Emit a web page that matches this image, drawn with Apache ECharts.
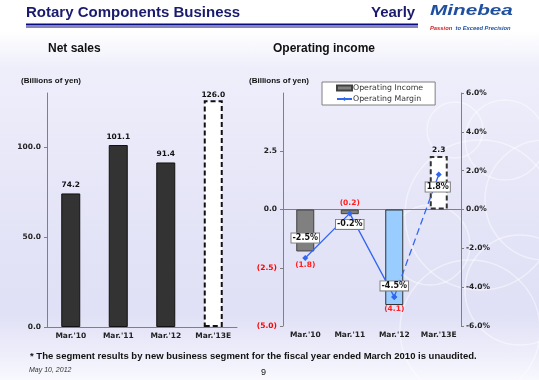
<!DOCTYPE html>
<html><head><meta charset="utf-8">
<script src="https://cdn.jsdelivr.net/npm/echarts@6/dist/echarts.min.js"></script>
<style>
html,body{margin:0;padding:0;}
body{width:539px;height:380px;background:linear-gradient(180deg,#ffffff 0%,#ffffff 8%,#eeeefb 18%,#e6e6f8 50%,#e0e0f6 82%,#ececfa 92%,#f8f8fe 100%);}
#c{width:539px;height:380px;}
</style></head>
<body><div id="c"></div>
<script>
const categories = ["Mar.'10", "Mar.'11", "Mar.'12", "Mar.'13E"];
const netSales = [74.2, 101.1, 91.4, 126.0];
const opIncome = [-1.8, -0.2, -4.1, 2.3];
const opMargin = [-2.5, -0.2, -4.5, 1.8];
const salesTicks = {min: 0, max: 130, interval: 50};
const incomeTicks = {min: -5, max: 5, interval: 2.5};
const marginTicks = {min: -6, max: 6, interval: 2};

const AX = 'DejaVu Sans';
const axisLabelStyle = {fontFamily: AX, fontWeight: 'bold', fontSize: 7.5, color: '#222'};
const gridLine = {lineStyle: {color: '#808080', width: 1}};

const chart = echarts.init(document.getElementById('c'), null, {renderer: 'canvas'});

const incomeLabelPos = [
  {position: 'bottom', distance: 10},
  {position: 'top', distance: 2},
  {position: 'bottom', distance: 0},
  {position: 'top', distance: 2}
];
const marginLabelOffset = [[0, -20], [0, 11], [0, -11], [-1, 12.5]];
const salesLabelDist = [4, 4, 4, 1];

const salesData = netSales.map((v, i) => {
  const o = {value: v, label: {distance: salesLabelDist[i]}};
  if (i === 3) o.itemStyle = {color: '#ffffff', borderColor: '#111', borderWidth: 2, borderType: [5, 3]};
  return o;
});
const incomeData = opIncome.map((v, i) => {
  const o = {value: v, label: incomeLabelPos[i]};
  if (i === 2) o.itemStyle = {color: '#99ccff', borderColor: '#333', borderWidth: 1};
  if (i === 3) o.itemStyle = {color: '#ffffff', borderColor: '#333', borderWidth: 2, borderType: [5, 3]};
  return o;
});
const solidMargin = opMargin.map((v, i) => i <= 2 ? {value: v, label: {offset: marginLabelOffset[i]}} : '-');
const dashedMargin = opMargin.map((v, i) => i >= 2 ? {value: v, label: {show: i === 3, offset: marginLabelOffset[i]}} : '-');

const marginLabel = {
  show: true, position: 'inside',
  formatter: p => p.value.toFixed(1) + '%',
  fontFamily: AX, fontWeight: 'bold', fontSize: 8, color: '#111',
  backgroundColor: '#ffffff', borderColor: '#808080', borderWidth: 1, padding: [1, 1, 0, 1]
};

const circles = [
  [505, 140, 40], [480, 215, 75], [520, 290, 55], [430, 245, 40], [455, 130, 28], [545, 200, 60], [470, 330, 70]
].map(c => ({type: 'circle', shape: {cx: c[0], cy: c[1], r: c[2]}, style: {fill: 'none', stroke: 'rgba(255,255,255,0.45)', lineWidth: 1.5}, z: -10, silent: true}));

chart.setOption({
  backgroundColor: 'transparent',
  animation: false,
  graphic: circles.concat([
    {type: 'text', left: 26, top: 5, style: {text: 'Rotary Components Business', font: 'bold 15px "Liberation Sans"', fill: '#1a1a6e'}},
    {type: 'text', left: 371, top: 5, style: {text: 'Yearly', font: 'bold 15px "Liberation Sans"', fill: '#1a1a6e'}},
    {type: 'rect', shape: {x: 26, y: 23.5, width: 392, height: 2}, style: {fill: '#0a0a80'}},
    {type: 'rect', shape: {x: 26, y: 26.5, width: 392, height: 1}, style: {fill: '#0a0a80'}},
    {type: 'text', x: 430, y: 3, scaleX: 1.38, style: {text: 'Minebea', font: 'italic bold 15px "Liberation Sans"', fill: '#1f4f9f'}},
    {type: 'text', x: 430, y: 22, style: {text: '{r|Passion} {b|to Exceed Precision}', rich: {r: {font: 'italic bold 5.8px "Liberation Sans"', fill: '#d42020'}, b: {font: 'italic bold 5.8px "Liberation Sans"', fill: '#1f4f9f'}}}},
    {type: 'text', left: 48, top: 43, style: {text: 'Net sales', font: 'bold 12px "Liberation Sans"', fill: '#111'}},
    {type: 'text', left: 273, top: 43, style: {text: 'Operating income', font: 'bold 12px "Liberation Sans"', fill: '#111'}},
    {type: 'text', left: 21, top: 77, style: {text: '(Billions of yen)', font: 'bold 8px "Liberation Sans"', fill: '#111'}},
    {type: 'text', left: 249, top: 77, style: {text: '(Billions of yen)', font: 'bold 8px "Liberation Sans"', fill: '#111'}},
    {type: 'text', left: 30, top: 351, style: {text: '* The segment results by new business segment for the fiscal year ended March 2010 is unaudited.', font: 'bold 9.5px "Liberation Sans"', fill: '#111'}},
    {type: 'text', left: 29, top: 367, style: {text: 'May 10, 2012', font: 'italic 7px "Liberation Sans"', fill: '#333'}},
    {type: 'text', left: 261, top: 368, style: {text: '9', font: '9px "Liberation Sans"', fill: '#111'}}
  ]),
  legend: {
    left: 322, top: 82, orient: 'vertical',
    backgroundColor: '#ffffff', borderColor: '#808080', borderWidth: 1,
    padding: [1, 12, 1, 14], itemGap: 1, itemWidth: 15, itemHeight: 5,
    textStyle: {fontFamily: AX, fontSize: 7.8, color: '#333', lineHeight: 10, padding: [0, 0, 0, -4]},
    data: [{name: 'Operating Income', icon: 'rect'}, {name: 'Operating Margin'}]
  },
  grid: [
    {left: 47, top: 93, width: 190, height: 234},
    {left: 283, top: 93, width: 178, height: 233}
  ],
  xAxis: [
    {type: 'category', gridIndex: 0, data: categories, axisLine: gridLine,
     axisTick: {inside: true, length: 3, lineStyle: {color: '#808080'}},
     axisLabel: Object.assign({margin: 5, interval: 0}, axisLabelStyle)},
    {type: 'category', gridIndex: 1, data: categories, position: 'bottom',
     axisLine: {show: true, onZero: false, lineStyle: {color: 'transparent'}}, axisTick: {show: false},
     axisLabel: Object.assign({margin: 5, interval: 0}, axisLabelStyle)},
    {type: 'category', gridIndex: 1, data: categories,
     axisLine: {onZero: true, onZeroAxisIndex: 1, lineStyle: {color: '#808080'}},
     axisTick: {inside: true, length: 3, lineStyle: {color: '#808080'}}, axisLabel: {show: false}}
  ],
  yAxis: [
    {type: 'value', gridIndex: 0, min: salesTicks.min, max: salesTicks.max, interval: salesTicks.interval,
     splitLine: {show: false}, axisLine: {show: true, lineStyle: {color: '#808080'}},
     axisTick: {show: true, length: 3, lineStyle: {color: '#808080'}},
     axisLabel: Object.assign({margin: 6, showMaxLabel: false, formatter: v => v.toFixed(1)}, axisLabelStyle)},
    {type: 'value', gridIndex: 1, min: incomeTicks.min, max: incomeTicks.max, interval: incomeTicks.interval,
     splitLine: {show: false}, axisLine: {show: true, lineStyle: {color: '#808080'}},
     axisTick: {show: true, length: 3, lineStyle: {color: '#808080'}},
     axisLabel: Object.assign({margin: 6, showMaxLabel: false,
       formatter: v => v < 0 ? '{r|(' + Math.abs(v).toFixed(1) + ')}' : v.toFixed(1),
       rich: {r: {color: '#ff0000', fontFamily: AX, fontWeight: 'bold', fontSize: 7.5}}}, axisLabelStyle)},
    {type: 'value', gridIndex: 1, position: 'right', min: marginTicks.min, max: marginTicks.max, interval: marginTicks.interval,
     splitLine: {show: false}, axisLine: {show: true, lineStyle: {color: '#808080'}},
     axisTick: {show: true, length: 3, lineStyle: {color: '#808080'}},
     axisLabel: Object.assign({margin: 5, formatter: v => v.toFixed(1) + '%'}, axisLabelStyle)}
  ],
  series: [
    {type: 'bar', name: 'Net sales', xAxisIndex: 0, yAxisIndex: 0, barWidth: 19, data: salesData,
     itemStyle: {color: '#333333', borderColor: '#111', borderWidth: 1},
     label: {show: true, position: 'top', formatter: p => p.value.toFixed(1), fontFamily: AX, fontWeight: 'bold', fontSize: 7.5, color: '#111'}},
    {type: 'bar', name: 'Operating Income', xAxisIndex: 1, yAxisIndex: 1, barWidth: 18, data: incomeData,
     itemStyle: {color: '#808080', borderColor: '#404040', borderWidth: 1},
     label: {show: true, fontFamily: AX, fontWeight: 'bold', fontSize: 7.5,
       formatter: p => p.value < 0 ? '{r|(' + Math.abs(p.value).toFixed(1) + ')}' : p.value.toFixed(1),
       color: '#111', rich: {r: {color: '#ff2020', fontFamily: AX, fontWeight: 'bold', fontSize: 7.5}}}},
    {type: 'line', name: 'Operating Margin', xAxisIndex: 1, yAxisIndex: 2, data: solidMargin,
     symbol: 'diamond', symbolSize: 6, lineStyle: {color: '#3366ee', width: 1.3}, itemStyle: {color: '#3366ee'},
     label: marginLabel, z: 5},
    {type: 'line', name: 'Margin forecast', xAxisIndex: 1, yAxisIndex: 2, data: dashedMargin,
     symbol: 'diamond', symbolSize: 6, lineStyle: {color: '#3366ee', width: 1.3, type: [7, 4]}, itemStyle: {color: '#3366ee'},
     label: marginLabel, z: 5}
  ]
});
</script>
</body></html>
